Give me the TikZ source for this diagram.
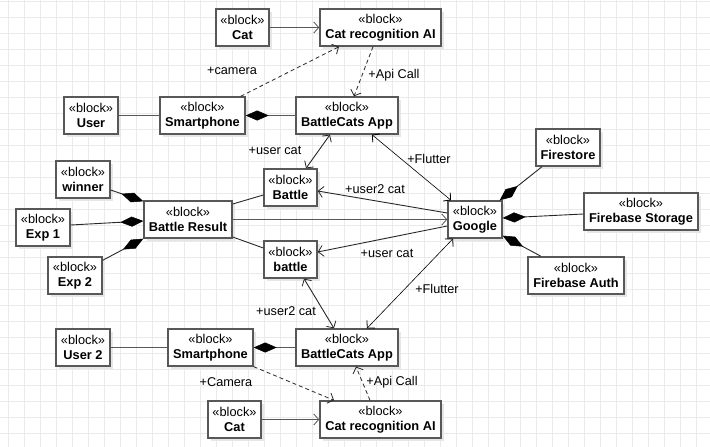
\documentclass[tikz,border=0pt]{standalone}
\usepackage{fontspec}
\setmainfont{Liberation Sans}
\usetikzlibrary{arrows.meta,shadows}
\definecolor{gridc}{RGB}{234,234,234}
\definecolor{boxc}{RGB}{88,88,88}
\definecolor{shad}{RGB}{230,230,230}
\definecolor{linec}{RGB}{40,40,40}
\tikzset{
  blk/.style={draw=boxc, line width=1.4pt, fill=white, rectangle, inner sep=0pt,
    minimum height=37pt, align=center, text=black,
    font=\fontsize{12.8}{15}\selectfont,
    drop shadow={shadow xshift=3pt, shadow yshift=-3pt, fill=shad, opacity=1}},
  lbl/.style={font=\fontsize{12.7}{15}\selectfont, inner sep=0pt, text=black},
  ln/.style={draw=linec, line width=0.9pt},
  thinln/.style={draw=black, line width=0.6pt},
  dep/.style={draw=linec, line width=0.8pt, dash pattern=on 4pt off 3pt},
  barb/.tip={Straight Barb[length=5pt,width=11pt,line width=0.8pt]},
  diaend/.style={-{Diamond[length=23pt,width=10pt,fill=black,color=black,line width=0.5pt]}},
}
\newcommand\bt[1]{«block»\\\textbf{#1}}
\begin{document}
\begin{tikzpicture}[x=1pt,y=-1pt]
\useasboundingbox (0,0) rectangle (710,447);
\fill[white] (0,0) rectangle (710,447);
% grid
\foreach \gx in {8,24,...,704} \draw[gridc, line width=1pt] (\gx,0) -- (\gx,447);
\foreach \gy in {1,17,...,446} \draw[gridc, line width=1pt] (0,\gy) -- (710,\gy);
% blocks
\node[blk, minimum width=53pt] (catT) at (242.5,27.5) {\bt{Cat}};
\node[blk, minimum width=121pt] (craT) at (380.5,27.5) {\bt{Cat recognition AI}};
\node[blk, minimum width=54pt] (user) at (91,115.5) {\bt{User}};
\node[blk, minimum width=85pt] (phoneT) at (202.5,115.5) {\bt{Smartphone}};
\node[blk, minimum width=102pt] (appT) at (347,115.5) {\bt{BattleCats App}};
\node[blk, minimum width=54pt] (winner) at (83,179.5) {\bt{winner}};
\node[blk, minimum width=54pt] (exp1) at (43,227.5) {\bt{Exp 1}};
\node[blk, minimum width=54pt] (exp2) at (75,275.5) {\bt{Exp 2}};
\node[blk, minimum width=88pt] (br) at (188,219.5) {\bt{Battle Result}};
\node[blk, minimum width=53pt] (battle1) at (290.5,187.5) {\bt{Battle}};
\node[blk, minimum width=53pt] (battle2) at (290.5,259.5) {\bt{battle}};
\node[blk, minimum width=54pt] (google) at (475,219.5) {\bt{Google}};
\node[blk, minimum width=64pt] (firestore) at (568,147.5) {\bt{Firestore}};
\node[blk, minimum width=114pt] (storage) at (641,211.5) {\bt{Firebase Storage}};
\node[blk, minimum width=96pt] (auth) at (576,275.5) {\bt{Firebase Auth}};
\node[blk, minimum width=54pt] (user2) at (83,347.5) {\bt{User 2}};
\node[blk, minimum width=85pt] (phoneB) at (210.5,347.5) {\bt{Smartphone}};
\node[blk, minimum width=102pt] (appB) at (347,347.5) {\bt{BattleCats App}};
\node[blk, minimum width=53pt] (catB) at (234.5,419.5) {\bt{Cat}};
\node[blk, minimum width=121pt] (craB) at (380.5,419.5) {\bt{Cat recognition AI}};
% top connectors
\draw[ln, line width=1.2pt, draw=boxc, -{barb}] (catT.east) -- (craT.west);
\draw[dep, -{barb}] ([xshift=-5pt]phoneT.north east) -- ([xshift=-41.5pt]craT.south);
\draw[dep, -{barb}] ([xshift=-7.5pt]craT.south) -- ([xshift=7pt]appT.north);
\draw[ln, line width=1.2pt, draw=boxc] (user.east) -- (phoneT.west);
\draw[ln, line width=1.2pt, draw=boxc, diaend] (appT.west) -- (phoneT.east);
\draw[ln, {barb}-{barb}] ([xshift=-17pt]appT.south) -- ([xshift=15.5pt]battle1.north);
\draw[thinln, {barb}-{barb}] ([xshift=25pt]appT.south) -- ([xshift=-24pt]google.north);
% middle
\draw[ln, -{barb}] ([yshift=6.5pt]google.west) -- ([yshift=-3.5pt]battle1.east);
\draw[ln, line width=1.6pt, draw=boxc, -{barb}] (br.east) -- (google.west);
\draw[ln, -{barb}] ([yshift=-6.5pt]google.west) -- ([yshift=7.5pt]battle2.east);
\draw[ln] ([yshift=15.5pt]br.east) -- ([yshift=-7.5pt]battle1.west);
\draw[ln] ([yshift=-17.5pt]br.east) -- ([yshift=11.5pt]battle2.west);
\draw[ln, {barb}-{barb}] ([xshift=13.5pt]battle2.south) -- ([xshift=-13pt]appB.north);
\draw[thinln, {barb}-{barb}] ([xshift=-22pt]google.south) -- ([xshift=20pt]appB.north);
\draw[ln, diaend] ([yshift=-10.5pt]winner.east) -- ([yshift=-1pt]br.north west);
\draw[ln, diaend] ([yshift=2.5pt]exp1.east) -- ([yshift=-1.5pt]br.west);
\draw[ln, diaend] ([yshift=-4pt]exp2.north east) -- (br.south west);
\draw[ln, diaend] ([xshift=-26pt]firestore.south) -- ([xshift=-3pt]google.north east);
\draw[ln, diaend] ([yshift=-2.5pt]storage.west) -- ([yshift=1.5pt]google.east);
\draw[ln, diaend] ([xshift=-35pt]auth.north) -- ([yshift=3pt]google.south east);
% bottom
\draw[ln, line width=1.2pt, draw=boxc] (user2.east) -- (phoneB.west);
\draw[ln, line width=1.2pt, draw=boxc, diaend] (appB.west) -- (phoneB.east);
\draw[dep, -{barb}] (phoneB.south east) -- ([xshift=-46.5pt]craB.north);
\draw[dep, -{barb}] ([xshift=-10.5pt]craB.north) -- ([xshift=9pt]appB.south);
\draw[ln, line width=1.2pt, draw=boxc, -{barb}] (catB.east) -- (craB.west);
% labels
\node[lbl] (lcam) at (232,71) {+camera};
\node[lbl] (lapi) at (394,75) {+Api Call};
\node[lbl] (luc1) at (275,150) {+user cat};
\node[lbl] (lfl1) at (429,159) {+Flutter};
\node[lbl] (lu2c) at (375,189) {+user2 cat};
\node[lbl] (luc2) at (387,253) {+user cat};
\node[lbl] (lfl2) at (437,289) {+Flutter};
\node[lbl] (lu2c2) at (286,311) {+user2 cat};
\node[lbl] (lcam2) at (226,382) {+Camera};
\node[lbl] (lapi2) at (392,382) {+Api Call};
\end{tikzpicture}
\end{document}
